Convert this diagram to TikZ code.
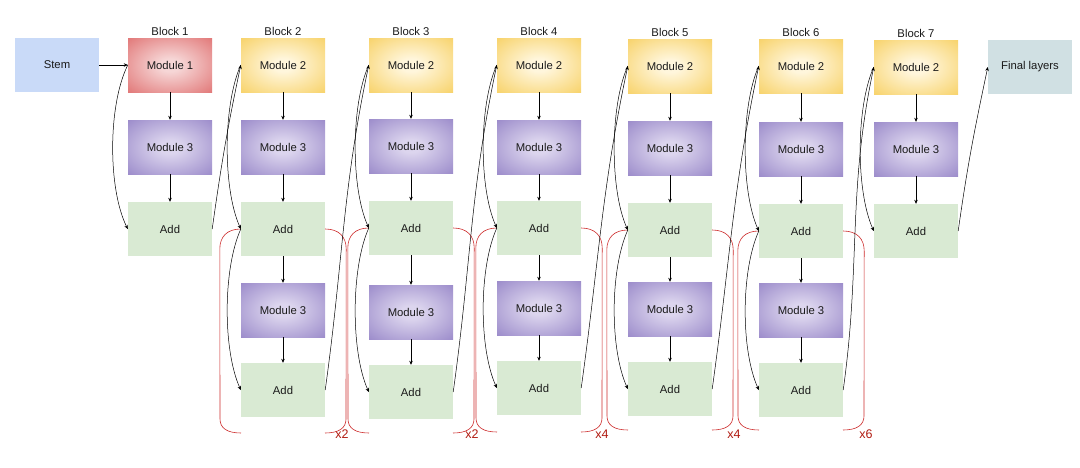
\documentclass[tikz,border=0pt]{standalone}
\usepackage{fontspec}
\setmainfont{Liberation Sans}
\usetikzlibrary{arrows.meta}
\definecolor{stemc}{HTML}{C9DAF8}
\definecolor{redout}{HTML}{DD6464}
\definecolor{redin}{HTML}{F6D6D6}
\definecolor{yelout}{HTML}{F6CB52}
\definecolor{yelin}{HTML}{FFF6DC}
\definecolor{purout}{HTML}{8E7CC3}
\definecolor{purin}{HTML}{DCD5EE}
\definecolor{addc}{HTML}{D9EAD3}
\definecolor{finc}{HTML}{D0E0E3}
\definecolor{brk}{HTML}{CC2A2A}
\definecolor{brktxt}{HTML}{B01A10}
\definecolor{txt}{HTML}{1A1A1A}
\pgfdeclareradialshading{redshade}{\pgfpointorigin}{color(0bp)=(redin); color(6bp)=(redin); color(42bp)=(redout); color(50bp)=(redout)}
\pgfdeclareradialshading{yelshade}{\pgfpointorigin}{color(0bp)=(yelin); color(6bp)=(yelin); color(42bp)=(yelout); color(50bp)=(yelout)}
\pgfdeclareradialshading{purshade}{\pgfpointorigin}{color(0bp)=(purin); color(6bp)=(purin); color(42bp)=(purout); color(50bp)=(purout)}
\begin{document}
\begin{tikzpicture}[x=1pt,y=1pt,
  box/.style={minimum width=84pt, minimum height=54pt, inner sep=0pt, text=txt, font=\fontsize{11.3}{13}\selectfont},
  stembox/.style={box, fill=stemc},
  finbox/.style={box, fill=finc},
  mone/.style={box, shade, shading=redshade},
  mtwo/.style={box, shade, shading=yelshade},
  mthree/.style={box, shade, shading=purshade},
  addbox/.style={box, fill=addc},
  lbl/.style={inner sep=2pt, text=txt, font=\fontsize{11.3}{13}\selectfont},
  reptxt/.style={inner sep=0pt, text=brktxt, font=\fontsize{12.5}{14}\selectfont},
  arr/.style={-{Stealth[length=4pt,width=3.5pt]}, line width=0.5pt, draw=black},
  brace/.style={draw=brk, line width=0.6pt}
]
\useasboundingbox (0,0) rectangle (1080,-467);
\node[stembox] (stem) at (57,-65) {Stem};
\node[mone] (b1m1) at (170,-65) {Module 1};
\node[mthree] (b1m3) at (170,-147) {Module 3};
\node[addbox] (b1z) at (170,-229) {Add};
\node[lbl, anchor=south] (b1lbl) at (b1m1.north) {Block 1};
\draw[arr] (stem) -- (b1m1);
\draw[arr] (b1m1) -- (b1m3);
\draw[arr] (b1m3) -- (b1z);
\draw[arr] (b1m1.west) .. controls +(-20,-40) and +(-20,40) .. (b1z.west);

\foreach \i/\x/\ya/\yb/\yc/\yd/\ye/\bot/\lx/\rp in
  {2/283/65/147/229/310/390/433/342/x2,
   3/411/65/146/228/312/392/433/472/x2,
   4/539/65/147/228/308/388/432/602/x4,
   5/670/66/148/230/309/389/430/734/x4,
   6/801/66/149/231/310/390/430/866/x6}{
  \node[mtwo] (b\i m2) at (\x,-\ya) {Module 2};
  \node[mthree] (b\i m3) at (\x,-\yb) {Module 3};
  \node[addbox] (b\i a) at (\x,-\yc) {Add};
  \node[mthree] (b\i m3b) at (\x,-\yd) {Module 3};
  \node[addbox] (b\i z) at (\x,-\ye) {Add};
  \node[lbl, anchor=south] (b\i lbl) at (b\i m2.north) {Block \i};
  \coordinate (b\i bl) at (\x-42,-\bot);
  \coordinate (b\i br) at (\x+42,-\bot);
  \draw[brace] (b\i a.west) .. controls +(-14,0) and +(0,12) .. ([shift={(-21,-20)}]b\i a.west)
     -- ([shift={(-21,14)}]b\i bl) .. controls +(0,-9) and +(-14,0) .. (b\i bl);
  \draw[brace] (b\i a.east) .. controls +(14,0) and +(0,12) .. ([shift={(21,-20)}]b\i a.east)
     -- ([shift={(21,14)}]b\i br) .. controls +(0,-9) and +(14,0) .. (b\i br);
  \node[reptxt] (b\i rep) at (\lx,-434) {\rp};
  \draw[arr] (b\i m2) -- (b\i m3);
  \draw[arr] (b\i m3) -- (b\i a);
  \draw[arr] (b\i a) -- (b\i m3b);
  \draw[arr] (b\i m3b) -- (b\i z);
  \draw[arr] (b\i m2.west) .. controls +(-18,-40) and +(-18,40) .. (b\i a.west);
  \draw[arr] (b\i a.west) .. controls +(-18,-40) and +(-18,40) .. (b\i z.west);
}

\node[mtwo] (b7m2) at (916,-67) {Module 2};
\node[mthree] (b7m3) at (916,-149) {Module 3};
\node[addbox] (b7z) at (916,-231) {Add};
\node[lbl, anchor=south] (b7lbl) at (b7m2.north) {Block 7};
\node[finbox] (fin) at (1030,-67) {Final layers};
\draw[arr] (b7m2) -- (b7m3);
\draw[arr] (b7m3) -- (b7z);
\draw[arr] (b7m2.west) .. controls +(-18,-40) and +(-18,40) .. (b7z.west);

\draw[arr] (b1z.east) to[out=82,in=258] (b2m2.west);
\foreach \p/\n in {2/3,3/4,4/5,5/6,6/7}{
  \draw[arr] (b\p z.east) to[out=82,in=258] (b\n m2.west);
}
\draw[arr] (b7z.east) to[out=82,in=258] (fin.west);
\end{tikzpicture}
\end{document}
